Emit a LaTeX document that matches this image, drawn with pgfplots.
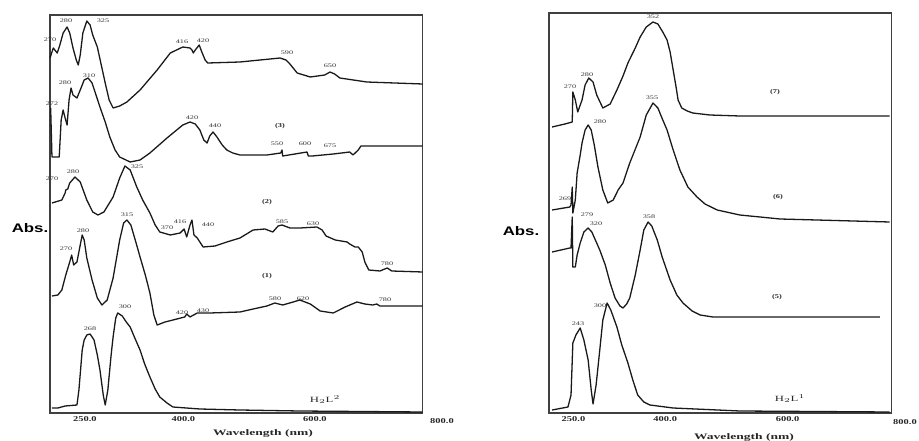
\documentclass[border=0pt]{standalone}
\usepackage{pgfplots}
\pgfplotsset{compat=1.18}
\usepackage{fontspec}
\setmainfont{Liberation Serif}
\newfontfamily\absfont{Liberation Sans}
\tikzset{
  pk/.style={font=\fontsize{5.5}{6}\selectfont, xscale=1.5, inner sep=0pt, text=black!80},
  cl/.style={font=\fontsize{6}{7}\selectfont\bfseries, xscale=1.4, inner sep=0pt, text=black!85},
  tl/.style={font=\fontsize{7.5}{8}\selectfont\bfseries, xscale=1.4, inner sep=0pt, text=black!85},
  sp/.style={black!90, line width=1.3pt, mark=none, line join=round},
}
\newcommand{\lb}[4][pk]{\node[#1] at (#2bp,441bp-#3bp) {#4};}
\begin{document}
\begin{tikzpicture}
\useasboundingbox (0,0) rectangle (919bp,441bp);
\pgfplotsset{spec/.style={
  anchor=south west, y=1bp, ymin=0,
  ytick=\empty, major tick length=0pt,
  axis line style={line width=1.2pt, black!75},
  xticklabel style={font=\fontsize{7.5}{8}\selectfont\bfseries, xscale=1.4, text=black!85},
  clip=false}}
% ---------------- left panel ----------------
\begin{axis}[spec, at={(50bp,28bp)}, x=0.6573bp, xmin=197, xmax=764, ymax=398,
  xtick={250,400,600}, xticklabels={250.0,400.0,600.0}]
% top curve
\addplot[sp] coordinates {(197,355)(202,365)(208,360)(212,368)(217,380)(223,386)(227,380)(232,365)(237,353)(240,348)(243,358)(247,380)(253,392)(258,388)(262,378)(269,366)(275,348)(281,330)(287,313)(293,305)(303,307)(314,311)(334,323)(360,343)(380,360)(399,366)(410,365)(413,363)(415,360)(418,363)(424,368)(428,361)(433,353)(437,350)(486,351)(547,355)(556,353)(562,349)(573,340)(593,336)(615,338)(623,341)(630,339)(638,335)(679,331)(764,329)};
% curve (3)
\addplot[sp] coordinates {(198,305)(200,256)(211,256)(214,293)(217,303)(220,295)(223,288)(226,313)(229,325)(232,318)(238,315)(243,323)(249,333)(255,335)(261,330)(267,318)(273,306)(281,291)(288,276)(296,263)(303,256)(319,251)(334,253)(349,260)(375,275)(399,288)(410,291)(418,289)(425,283)(431,273)(436,270)(440,277)(445,281)(451,276)(459,268)(466,263)(475,260)(486,258)(527,258)(548,260)(550,263)(551,257)(588,261)(590,257)(596,257)(628,259)(653,261)(658,258)(666,263)(670,267)(764,267)};
% curve (2)
\addplot[sp] coordinates {(200,210)(215,213)(220,220)(221,223)(224,224)(227,230)(235,236)(243,231)(253,213)(262,201)(270,198)(279,201)(293,216)(303,235)(311,247)(319,243)(329,226)(338,213)(349,200)(357,188)(364,181)(380,178)(395,180)(401,184)(405,176)(410,188)(413,193)(416,178)(421,175)(430,166)(448,167)(466,171)(486,175)(506,183)(524,184)(536,181)(544,187)(550,188)(562,185)(577,185)(603,186)(611,183)(617,177)(631,173)(649,171)(653,169)(661,166)(666,166)(672,161)(676,151)(682,143)(699,142)(710,145)(717,142)(764,141)};
% curve (1)
\addplot[sp] coordinates {(200,117)(209,118)(215,123)(221,138)(227,151)(230,158)(233,148)(238,151)(243,168)(246,178)(249,173)(253,155)(261,133)(269,115)(276,108)(284,113)(293,135)(303,173)(309,190)(314,193)(320,188)(328,170)(334,156)(342,138)(349,120)(355,98)(360,88)(372,91)(384,93)(402,96)(405,99)(410,96)(421,100)(440,100)(486,101)(506,104)(527,107)(539,110)(551,108)(567,111)(577,113)(593,109)(608,102)(628,100)(646,106)(664,111)(676,109)(688,108)(694,109)(699,107)(764,107)};
% H2L2
\addplot[sp] coordinates {(200,5)(209,5)(220,7)(238,8)(241,23)(246,63)(249,73)(253,78)(258,79)(264,73)(269,58)(273,43)(278,18)(281,8)(285,23)(290,58)(293,76)(297,95)(300,100)(307,97)(313,91)(319,86)(326,75)(334,63)(341,49)(349,36)(357,24)(364,16)(375,10)(384,6)(425,4)(486,3)(577,2)(764,1)};
\end{axis}
% ---------------- right panel ----------------
\begin{axis}[spec, at={(549bp,28bp)}, x=0.6117bp, xmin=210, xmax=770, ymax=400,
  xtick={250,400,600}, xticklabels={250.0,400.0,600.0}]
% (7)
\addplot[sp] coordinates {(215,286)(236,289)(248,291)(249,321)(253,313)(257,301)(264,313)(269,328)(275,335)(282,331)(288,318)(298,305)(310,309)(321,323)(331,337)(339,350)(351,365)(359,376)(369,386)(380,391)(388,389)(396,381)(403,373)(408,361)(413,343)(418,325)(421,313)(427,305)(436,302)(445,300)(473,298)(522,297)(767,297)};
% (6)
\addplot[sp] coordinates {(215,203)(244,206)(246,208)(248,226)(249,200)(253,213)(256,240)(261,258)(264,270)(269,283)(274,288)(279,283)(284,268)(290,246)(298,223)(306,210)(315,213)(323,223)(331,230)(342,250)(359,276)(369,298)(380,310)(388,305)(396,293)(403,283)(413,263)(424,243)(437,226)(452,216)(465,209)(485,203)(522,198)(588,194)(767,191)};
% (5)
\addplot[sp] coordinates {(215,161)(244,165)(246,165)(248,196)(249,146)(253,146)(256,158)(261,170)(267,181)(274,185)(280,181)(293,163)(302,148)(310,130)(318,115)(326,107)(331,105)(337,109)(342,115)(351,138)(359,163)(365,183)(372,191)(378,187)(387,173)(395,156)(408,133)(419,118)(429,110)(444,102)(457,98)(478,96)(522,96)(751,96)};
% H2L1
\addplot[sp] coordinates {(215,3)(241,6)(246,18)(249,70)(254,78)(261,85)(267,73)(274,53)(279,23)(282,9)(287,28)(293,63)(298,93)(305,110)(311,103)(321,86)(329,68)(339,50)(347,33)(355,18)(365,11)(375,8)(413,5)(522,2)(767,1)};
\end{axis}
% ---------------- text ----------------
\lb[tl]{442}{421}{800.0}
\lb[tl]{905}{422}{800.0}
\node[font=\fontsize{8.5}{9}\selectfont\bfseries, xscale=1.6, text=black!85] at (263bp,441bp-433bp) {Wavelength (nm)};
\node[font=\fontsize{8.5}{9}\selectfont\bfseries, xscale=1.6, text=black!85] at (744bp,441bp-437bp) {Wavelength (nm)};
\node[font=\absfont\fontsize{12.5}{13}\selectfont\bfseries, xscale=1.35] at (30bp,441bp-228bp) {Abs.};
\node[font=\absfont\fontsize{12.5}{13}\selectfont\bfseries, xscale=1.35] at (521bp,441bp-231bp) {Abs.};
% left peak labels
\lb{50}{40}{270}\lb{66}{21}{280}\lb{103}{21}{325}\lb{182}{42}{416}\lb{203}{41}{420}\lb{287}{53}{590}\lb{330}{66}{650}
\lb{52}{104}{272}\lb{65}{83}{280}\lb{89}{76}{310}\lb{192}{118}{420}\lb{215}{126}{440}\lb{277}{144}{550}\lb{305}{144}{600}\lb{330}{146}{675}
\lb{52}{179}{270}\lb{73}{172}{280}\lb{137}{167}{325}\lb{167}{228}{370}\lb{180}{222}{416}\lb{208}{225}{440}\lb{282}{222}{585}\lb{313}{224}{630}\lb{387}{264}{780}
\lb{66}{249}{270}\lb{83}{231}{280}\lb{127}{215}{315}\lb{182}{313}{420}\lb{203}{311}{430}\lb{275}{299}{580}\lb{303}{299}{620}\lb{385}{300}{780}
\lb{90}{329}{268}\lb{125}{307}{300}
\lb[cl]{280}{126}{(3)}\lb[cl]{267}{202}{(2)}\lb[cl]{267}{276}{(1)}
\node[font=\fontsize{8}{9}\selectfont, xscale=1.6, text=black!85] at (325bp,441bp-400bp) {H$_2$L$^2$};
% right peak labels
\lb{653}{17}{352}\lb{570}{87}{270}\lb{587}{75}{280}\lb{652}{98}{355}\lb{600}{122}{280}\lb{565}{199}{269}
\lb{587}{215}{279}\lb{596}{224}{320}\lb{649}{217}{358}\lb{600}{306}{300}\lb{578}{324}{243}
\lb[cl]{775}{92}{(7)}\lb[cl]{778}{197}{(6)}\lb[cl]{777}{297}{(5)}
\node[font=\fontsize{8}{9}\selectfont, xscale=1.6, text=black!85] at (790bp,441bp-399bp) {H$_2$L$^1$};
\end{tikzpicture}
\end{document}
